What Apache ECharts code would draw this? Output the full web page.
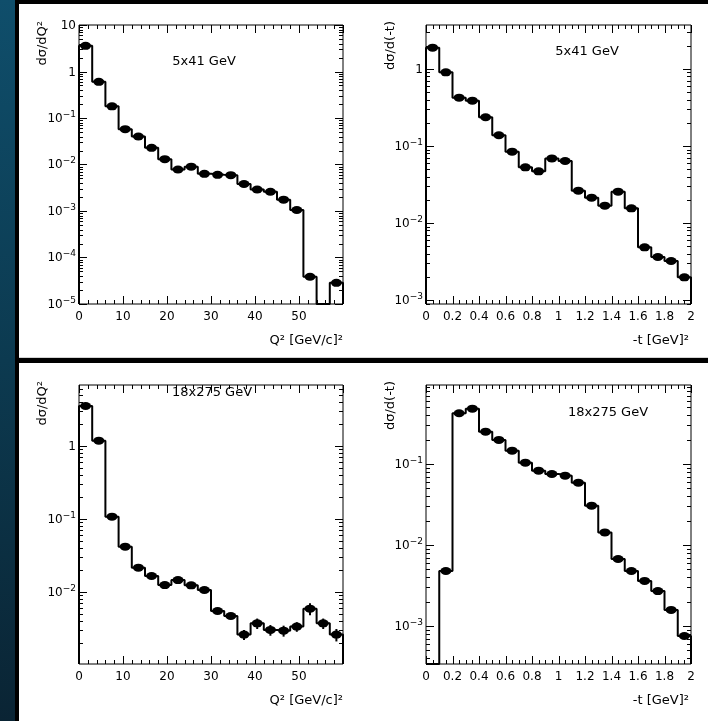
<!DOCTYPE html>
<html>
<head>
<meta charset="UTF-8">
<title>exclusive cross sections</title>
<script src="https://cdn.jsdelivr.net/npm/echarts@6.0.0/dist/echarts.min.js"></script>
<style>
    html, body { margin: 0; padding: 0; background: #000; }
    #page { position: relative; width: 708px; height: 721px; overflow: hidden; background: #000; }
    .strip { position: absolute; left: 0; top: 0; width: 15px; height: 721px;
             background: linear-gradient(#0f4e6b, #0c3a50 50%, #0a2434); }
    .panel { position: absolute; left: 19px; width: 689px; background: #fff; }
    #top { top: 4px; height: 354px; border-bottom: 1px solid #d4d4d4; box-sizing: border-box; }
    #bottom { top: 363px; height: 358px; }
    #main { position: absolute; left: 0; top: 0; width: 708px; height: 721px; }
</style>
</head>
<body>
<div id="page">
    <div class="strip"></div>
    <div class="panel" id="top"></div>
    <div class="panel" id="bottom"></div>
    <div id="main"></div>
</div>
<script>
// 20 bins per histogram
var qBin = 3;     // Q^2 bin width [GeV/c]^2
var tBin = 0.1;   // -t bin width [GeV]^2

// 5x41 GeV
var q5x41 = [3.57, 0.60, 0.178, 0.0575, 0.040, 0.0228, 0.013, 0.0078, 0.009, 0.0063,
             0.006, 0.0059, 0.0038, 0.0029, 0.0026, 0.00175, 0.00105, 3.85e-5, 0, 2.85e-5];
var t5x41 = [1.89, 0.905, 0.424, 0.388, 0.236, 0.138, 0.0844, 0.0528, 0.0469, 0.069,
             0.0638, 0.0263, 0.0213, 0.0168, 0.0255, 0.0155, 0.00483, 0.00362, 0.00321, 0.00197];

// 18x275 GeV
var q18x275 = [3.49, 1.17, 0.1065, 0.0413, 0.0213, 0.0164, 0.0123, 0.0144, 0.0122, 0.01054,
               0.00543, 0.00464, 0.00258, 0.00368, 0.00299, 0.00292, 0.00332, 0.00585, 0.00368, 0.00258];
var q18x275Err = [0.05, 0.02, 0.003, 0.0015, 0.0008, 0.0007, 0.0006, 0.0007, 0.0006, 0.0006,
                  0.0004, 0.0004, 0.0004, 0.0006, 0.0005, 0.0005, 0.0005, 0.0011, 0.0006, 0.0005];
var t18x275 = [0, 0.00477, 0.423, 0.482, 0.2506, 0.198, 0.146, 0.1038, 0.0828, 0.0753,
               0.0718, 0.0588, 0.0306, 0.0143, 0.00671, 0.00477, 0.0036, 0.0027, 0.00158, 0.000753];

// axis ticks
var qMajor = [0, 10, 20, 30, 40, 50, 60];
var tMajor = [0, 0.2, 0.4, 0.6, 0.8, 1, 1.2, 1.4, 1.6, 1.8, 2];
var decades = [1e-6, 1e-5, 1e-4, 1e-3, 1e-2, 1e-1, 1, 10];

var FONT = '"DejaVu Sans", sans-serif';

var panels = [
    { tag: '5x41 GeV', kind: 'q', vals: q5x41, yMin: 1e-5, yMax: 10,
      left: 79, top: 25, width: 264, height: 279, tagPos: [204, 62] },
    { tag: '5x41 GeV', kind: 't', vals: t5x41, yMin: Math.pow(10, -3.052), yMax: Math.pow(10, 0.571),
      left: 426, top: 25, width: 265, height: 279, tagPos: [587, 52] },
    { tag: '18x275 GeV', kind: 'q', vals: q18x275, err: q18x275Err, yMin: Math.pow(10, -2.991), yMax: Math.pow(10, 0.831),
      left: 79, top: 385, width: 264, height: 279, tagPos: [212, 393] },
    { tag: '18x275 GeV', kind: 't', vals: t18x275, yMin: Math.pow(10, -3.469), yMax: Math.pow(10, -0.025),
      left: 426, top: 385, width: 265, height: 279, tagPos: [608, 413] }
];

// "10^-2" style label as rich text
function logLabel(v) {
    var e = Math.round(Math.log10(v));
    if (e === 0) return '{b|1}';
    if (e === 1) return '{b|10}';
    return '{b|10}{s|' + String(e).replace('-', '\u2212') + '}';
}
var labelRich = {
    b: { fontSize: 12, fontFamily: FONT, lineHeight: 16, color: '#000' },
    s: { fontSize: 9, fontFamily: FONT, lineHeight: 8, verticalAlign: 'top', color: '#000' }
};

function subdivide(majors, n) {
    var out = [];
    for (var i = 0; i < majors.length - 1; i++) {
        var step = (majors[i + 1] - majors[i]) / n;
        for (var j = 1; j < n; j++) out.push(majors[i] + j * step);
    }
    return out;
}

function stepData(vals, w, yMin) {
    var pts = [[0, yMin]];
    vals.forEach(function (v, k) { pts.push([k * w, Math.max(v, yMin)]); });
    pts.push([vals.length * w, Math.max(vals[vals.length - 1], yMin)]);
    pts.push([vals.length * w, yMin]);
    return pts;
}

// kind: 0 x major, 1 x minor, 2 y decade (with label), 3 y minor
function renderTicks(params, api) {
    var r = params.coordSys;
    var k = api.value(2);
    var p = api.coord([api.value(0), api.value(1)]);
    var len = (k === 0 || k === 2) ? 8 : 4;
    var segs, label = null;
    if (k < 2) {
        if (p[0] < r.x - 0.5 || p[0] > r.x + r.width + 0.5) return;
        var x = Math.round(p[0]) + 0.5;
        segs = [[x, r.y + r.height, x, r.y + r.height - len], [x, r.y, x, r.y + len]];
    } else {
        if (p[1] < r.y - 0.5 || p[1] > r.y + r.height + 0.5) return;
        var y = Math.round(p[1]) + 0.5;
        segs = [[r.x, y, r.x + len, y], [r.x + r.width, y, r.x + r.width - len, y]];
        if (k === 2) {
            label = { type: 'text', x: r.x - 3, y: y,
                      style: { text: logLabel(api.value(1)), rich: labelRich, fill: '#000',
                               font: '12px ' + FONT, align: 'right', verticalAlign: 'middle' } };
        }
    }
    var children = segs.map(function (s) {
        return { type: 'line', shape: { x1: s[0], y1: s[1], x2: s[2], y2: s[3] },
                 style: { stroke: '#000', lineWidth: 1 } };
    });
    if (label) children.push(label);
    return { type: 'group', children: children };
}

function renderErr(params, api) {
    var x = api.value(0), v = api.value(1), e = api.value(2);
    var lo = api.coord([x, v - e]);
    var hi = api.coord([x, v + e]);
    return { type: 'line', shape: { x1: lo[0], y1: lo[1], x2: hi[0], y2: hi[1] },
             style: { stroke: '#000', lineWidth: 2 } };
}

var grids = [], xAxes = [], yAxes = [], series = [], graphics = [];

panels.forEach(function (p, i) {
    var isQ = p.kind === 'q';
    var w = isQ ? qBin : tBin;
    var majors = isQ ? qMajor : tMajor;
    var minors = subdivide(majors, isQ ? 5 : 4);

    grids.push({ left: p.left, top: p.top, width: p.width, height: p.height,
                 show: true, borderColor: '#000', borderWidth: 1, backgroundColor: 'transparent' });

    xAxes.push({
        type: 'value', gridIndex: i, min: 0, max: isQ ? 60 : 2, interval: isQ ? 10 : 0.2,
        axisLine: { show: false }, axisTick: { show: false }, splitLine: { show: false },
        axisLabel: {
            color: '#000', fontSize: 12, fontFamily: FONT, margin: 7,
            formatter: function (v) { return (isQ && v === 60) ? '' : String(+v.toFixed(1)); }
        }
    });
    yAxes.push({
        type: 'log', logBase: 10, gridIndex: i, min: p.yMin, max: p.yMax,
        axisLine: { show: false }, axisTick: { show: false }, splitLine: { show: false },
        axisLabel: { show: false }
    });

    // tick marks on all four sides, decade labels on the left
    var ticks = [];
    majors.forEach(function (v) { ticks.push([v, p.yMin, 0]); });
    minors.forEach(function (v) { ticks.push([v, p.yMin, 1]); });
    decades.forEach(function (d) {
        for (var m = 1; m < 10; m++) {
            var v = d * m;
            if (v >= p.yMin * 0.999 && v <= p.yMax * 1.001) ticks.push([0, v, m === 1 ? 2 : 3]);
        }
    });
    series.push({ type: 'custom', xAxisIndex: i, yAxisIndex: i, renderItem: renderTicks,
                  data: ticks, silent: true, z: 1 });

    series.push({
        type: 'line', xAxisIndex: i, yAxisIndex: i, step: 'end', symbol: 'none',
        data: stepData(p.vals, w, p.yMin), lineStyle: { color: '#000', width: 2 }, silent: true, z: 2
    });

    if (p.err) {
        var errData = [];
        p.vals.forEach(function (v, k) { if (v > 0) errData.push([(k + 0.5) * w, v, p.err[k]]); });
        series.push({ type: 'custom', xAxisIndex: i, yAxisIndex: i, renderItem: renderErr,
                      data: errData, silent: true, z: 3 });
    }

    var pts = [];
    p.vals.forEach(function (v, k) { if (v > 0) pts.push([(k + 0.5) * w, v]); });
    series.push({ type: 'scatter', xAxisIndex: i, yAxisIndex: i, data: pts,
                  symbol: 'circle', symbolSize: [11, 8], itemStyle: { color: '#000', opacity: 1 },
                  silent: true, z: 4 });

    var right = p.left + p.width;
    graphics.push({ type: 'text', x: p.tagPos[0], y: p.tagPos[1],
        style: { text: p.tag, fill: '#000', font: '13px ' + FONT, align: 'center', verticalAlign: 'middle' } });
    graphics.push({ type: 'text', x: isQ ? right : right - 2, y: p.top + p.height + 37,
        style: { text: isQ ? 'Q\u00b2 [GeV/c]\u00b2' : '-t [GeV]\u00b2', fill: '#000', font: '13px ' + FONT,
                 align: 'right', verticalAlign: 'middle' } });
    graphics.push({ type: 'text', x: isQ ? 43 : 391, y: p.top - 4, rotation: Math.PI / 2,
        style: { text: isQ ? 'd\u03c3/dQ\u00b2' : 'd\u03c3/d(-t)', fill: '#000', font: '13px ' + FONT,
                 align: 'right', verticalAlign: 'middle' } });
});

var myChart = echarts.init(document.getElementById('main'));
myChart.setOption({
    backgroundColor: 'transparent',
    animation: false,
    textStyle: { fontFamily: FONT },
    grid: grids,
    xAxis: xAxes,
    yAxis: yAxes,
    series: series,
    graphic: graphics
});
</script>
</body>
</html>
